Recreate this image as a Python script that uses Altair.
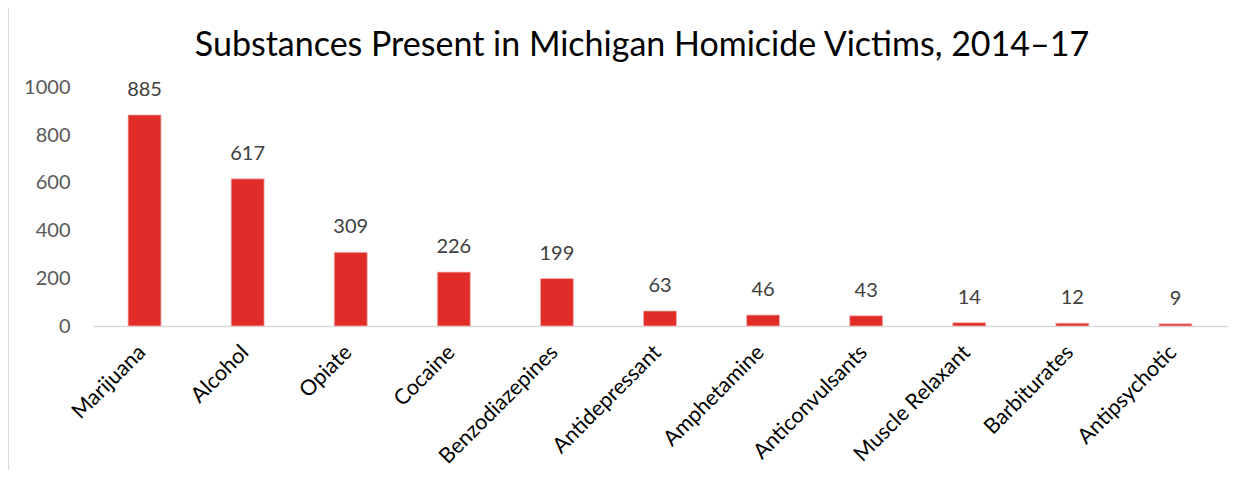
import altair as alt
import pandas as pd

categories = ["Marijuana", "Alcohol", "Opiate", "Cocaine", "Benzodiazepines",
              "Antidepressant", "Amphetamine", "Anticonvulsants", "Muscle Relaxant",
              "Barbiturates", "Antipsychotic"]
values = [885, 617, 309, 226, 199, 63, 46, 43, 14, 12, 9]
y_ticks = [0, 200, 400, 600, 800, 1000]

df = pd.DataFrame({"substance": categories, "count": values})
FONT = "Lato"

base = alt.Chart(df).encode(
    x=alt.X("substance:N", sort=categories, title=None,
            scale=alt.Scale(paddingInner=0.68, paddingOuter=0.34),
            axis=alt.Axis(labelAngle=-45, labelAlign="right", labelBaseline="middle",
                          labelPadding=23, labelOffset=-2, ticks=False,
                          domainColor="#D9D9D9", domainWidth=1.5, labelLimit=400,
                          labelColor="#000000", labelFontSize=21.5,
                          labelFont=FONT, labelOverlap=False)),
    y=alt.Y("count:Q", title=None,
            scale=alt.Scale(domain=[0, 1000], nice=False),
            axis=alt.Axis(values=y_ticks, format="d", grid=False, domain=False,
                          ticks=False, labelPadding=23, labelColor="#595959",
                          labelFontSize=20, labelFont=FONT)),
)

bars = base.mark_bar(color="#E02D28", stroke="#F4B5B3", strokeWidth=0.8)
labels = base.mark_text(dy=-25, fontSize=20, font=FONT, color="#404040").encode(
    text="count:Q")

frame = alt.Chart(df).mark_rule(color="#D9D9D9", strokeWidth=1.5).encode(
    x=alt.value(-85), y=alt.value(-79.5), y2=alt.value(382.5))

chart = (frame + bars + labels).properties(
    width=1134, height=238.5,
    title=alt.TitleParams("Substances Present in Michigan Homicide Victims, 2014–17",
                          fontSize=34, font=FONT, fontWeight="normal", color="#000000",
                          offset=-56, dx=-18),
    autosize=alt.AutoSizeParams(type="none"),
    padding={"left": 85, "top": 79.5, "right": 12, "bottom": 144},
).configure_view(stroke=None)

chart.save("out.html", embed_options={"renderer": "svg", "actions": False})
